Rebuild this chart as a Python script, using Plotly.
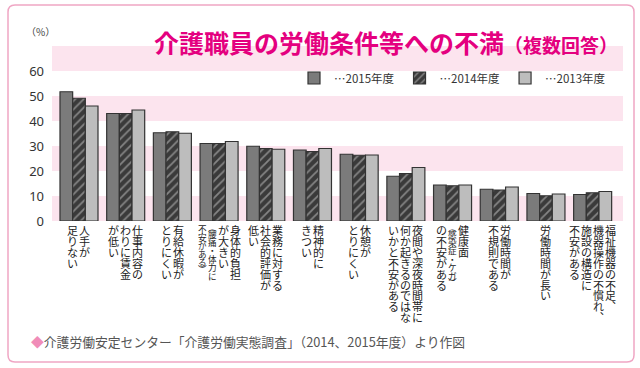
import plotly.graph_objects as go

# ---------------- data ----------------
categories = [
    "人手が足りない",
    "仕事内容のわりに賃金が低い",
    "有給休暇がとりにくい",
    "身体的負担が大きい（腰痛・体力に不安がある）",
    "業務に対する社会的評価が低い",
    "精神的にきつい",
    "休憩がとりにくい",
    "夜間や深夜時間帯に何か起きるのではないかと不安がある",
    "健康面（感染症・ケガ）の不安がある",
    "労働時間が不規則である",
    "労働時間が長い",
    "福祉機器の不足、機器操作の不慣れ、施設の構造に不安がある",
]
# vertical label columns (right-to-left), flag 1 = small text
label_columns = [
    [("人手が", 0), ("足りない", 0)],
    [("仕事内容の", 0), ("わりに賃金", 0), ("が低い", 0)],
    [("有給休暇が", 0), ("とりにくい", 0)],
    [("身体的負担", 0), ("が大きい", 0), ("（腰痛・体力に", 1), ("不安がある）", 1)],
    [("業務に対する", 0), ("社会的評価が", 0), ("低い", 0)],
    [("精神的に", 0), ("きつい", 0)],
    [("休憩が", 0), ("とりにくい", 0)],
    [("夜間や深夜時間帯に", 0), ("何か起きるのではな", 0), ("いかと不安がある", 0)],
    [("健康面", 0), ("（感染症・ケガ）", 1), ("の不安がある", 0)],
    [("労働時間が", 0), ("不規則である", 0)],
    [("労働時間が長い", 0)],
    [("福祉機器の不足、", 0), ("機器操作の不慣れ、", 0), ("施設の構造に", 0), ("不安がある", 0)],
]
series_names = ["…2015年度", "…2014年度", "…2013年度"]
values_2015 = [51.7, 43.0, 35.3, 31.0, 29.9, 28.4, 26.7, 17.9, 14.4, 12.7, 11.0, 10.6]
values_2014 = [49.1, 43.0, 35.7, 31.0, 29.0, 27.8, 26.3, 19.0, 14.1, 12.4, 10.1, 11.3]
values_2013 = [46.0, 44.4, 35.1, 31.8, 28.7, 29.0, 26.4, 21.4, 14.4, 13.6, 10.8, 11.8]
y_ticks = [0, 10, 20, 30, 40, 50, 60]
band_ranges = [(0, 10), (20, 30), (40, 50), (60, 70)]

title_main = "介護職員の労働条件等への不満"
title_sub = "（複数回答）"
unit_label = "（%）"
source_text = "介護労働安定センター「介護労働実態調査」（2014、2015年度）より作図"

# ---------------- style ----------------
FONT = "Noto Sans CJK JP"
PINK = "#e4007f"
BAND = "#fce4ee"
EDGE = "#333333"
W, H = 640, 368
ML, MR, MT, MB = 52, 17, 46, 147
PW = W - ML - MR
PH = H - MT - MB

def px_x(px):
    return (px - ML) / PW

def px_y(py):
    return (H - MB - py) / PH

fig = go.Figure()
fig.add_trace(go.Bar(
    x=categories, y=values_2015, name=series_names[0],
    marker=dict(color="#7b7b7b", line=dict(color=EDGE, width=1.2)),
))
fig.add_trace(go.Bar(
    x=categories, y=values_2014, name=series_names[1],
    marker=dict(color="#3a3a3a", line=dict(color=EDGE, width=1.2),
                pattern=dict(shape="/", fgcolor="#cfcfcf", bgcolor="#3a3a3a",
                             size=6, solidity=0.3)),
))
fig.add_trace(go.Bar(
    x=categories, y=values_2013, name=series_names[2],
    marker=dict(color="#bdbdbd", line=dict(color=EDGE, width=1.2)),
))

shapes = []
for lo, hi in band_ranges:
    shapes.append(dict(type="rect", xref="paper", yref="y", x0=0, x1=1,
                       y0=lo, y1=hi, fillcolor=BAND, line=dict(width=0),
                       layer="below"))

# outer frame with rounded corners
x0, x1 = px_x(8), px_x(634)
y0, y1 = px_y(362), px_y(5)
rx, ry = 7 / PW, 7 / PH
path = (f"M{x0+rx},{y1} L{x1-rx},{y1} Q{x1},{y1} {x1},{y1-ry} "
        f"L{x1},{y0+ry} Q{x1},{y0} {x1-rx},{y0} L{x0+rx},{y0} "
        f"Q{x0},{y0} {x0},{y0+ry} L{x0},{y1-ry} Q{x0},{y1} {x0+rx},{y1} Z")
shapes.append(dict(type="path", xref="paper", yref="paper", path=path,
                   line=dict(color="#f0a6c4", width=1.5), layer="below"))

annotations = []
annotations.append(dict(
    x=px_x(152), y=px_y(42), xref="paper", yref="paper", xanchor="left",
    yanchor="middle", showarrow=False,
    text=f"<b>{title_main}</b><b><span style='font-size:19px'>{title_sub}</span></b>",
    font=dict(family=FONT, size=25, color=PINK)))
annotations.append(dict(
    x=px_x(40), y=px_y(31), xref="paper", yref="paper", xanchor="center",
    yanchor="middle", showarrow=False, text=unit_label,
    font=dict(family=FONT, size=10, color="#444")))
annotations.append(dict(
    x=px_x(29), y=px_y(341), xref="paper", yref="paper", xanchor="left",
    yanchor="middle", showarrow=False,
    text=f"<span style='color:#f08cb8'>◆</span>{source_text}",
    font=dict(family=FONT, size=12.8, color="#555")))

# vertical (tategaki) category labels, one character per annotation
VMAP = {"（": "︵", "）": "︶", "、": "︑"}
for cat, cols in zip(categories, label_columns):
    widths = [12 if s == 0 else 10 for _, s in cols]
    total = sum(widths)
    right = total / 2
    for (text, small), w in zip(cols, widths):
        cx = right - w / 2
        right -= w
        size = 11 if small == 0 else 8.6
        pitch = 10.9 if small == 0 else 8.4
        yoff = 9.0 if small == 0 else 7.5
        for ch in text:
            step = pitch * (0.6 if ch in "（）" else 1.0)
            shown = VMAP.get(ch, ch)
            annotations.append(dict(
                x=cat, y=0, xref="x", yref="paper", xanchor="center",
                yanchor="middle", showarrow=False, text=shown, borderpad=0,
                xshift=cx, yshift=-(yoff + step / 2 - pitch / 2),
                font=dict(family=FONT, size=size, color="#222")))
            yoff += step

fig.update_layout(
    width=W, height=H,
    margin=dict(l=ML, r=MR, t=MT, b=MB, pad=0),
    paper_bgcolor="white", plot_bgcolor="white",
    barmode="group", bargap=0.186, bargroupgap=0,
    font=dict(family=FONT, color="#333"),
    showlegend=True,
    legend=dict(orientation="h", x=px_x(611), xanchor="right", y=px_y(78),
                yanchor="middle", bgcolor="rgba(0,0,0,0)",
                font=dict(family=FONT, size=11.5, color="#333"),
                itemwidth=30, traceorder="normal"),
    xaxis=dict(range=[-0.578, 11.65], showticklabels=False, showgrid=False,
               zeroline=False, showline=False, ticks=""),
    yaxis=dict(range=[0, 70], tickvals=y_ticks, showgrid=False, zeroline=False,
               showline=False, ticks="", ticklabelstandoff=7,
               tickfont=dict(family="Noto Sans", size=13, color="#333")),
    shapes=shapes, annotations=annotations,
)

fig.write_html("out.html", config={"displayModeBar": False},
               post_script="document.body.style.margin='0px';")
